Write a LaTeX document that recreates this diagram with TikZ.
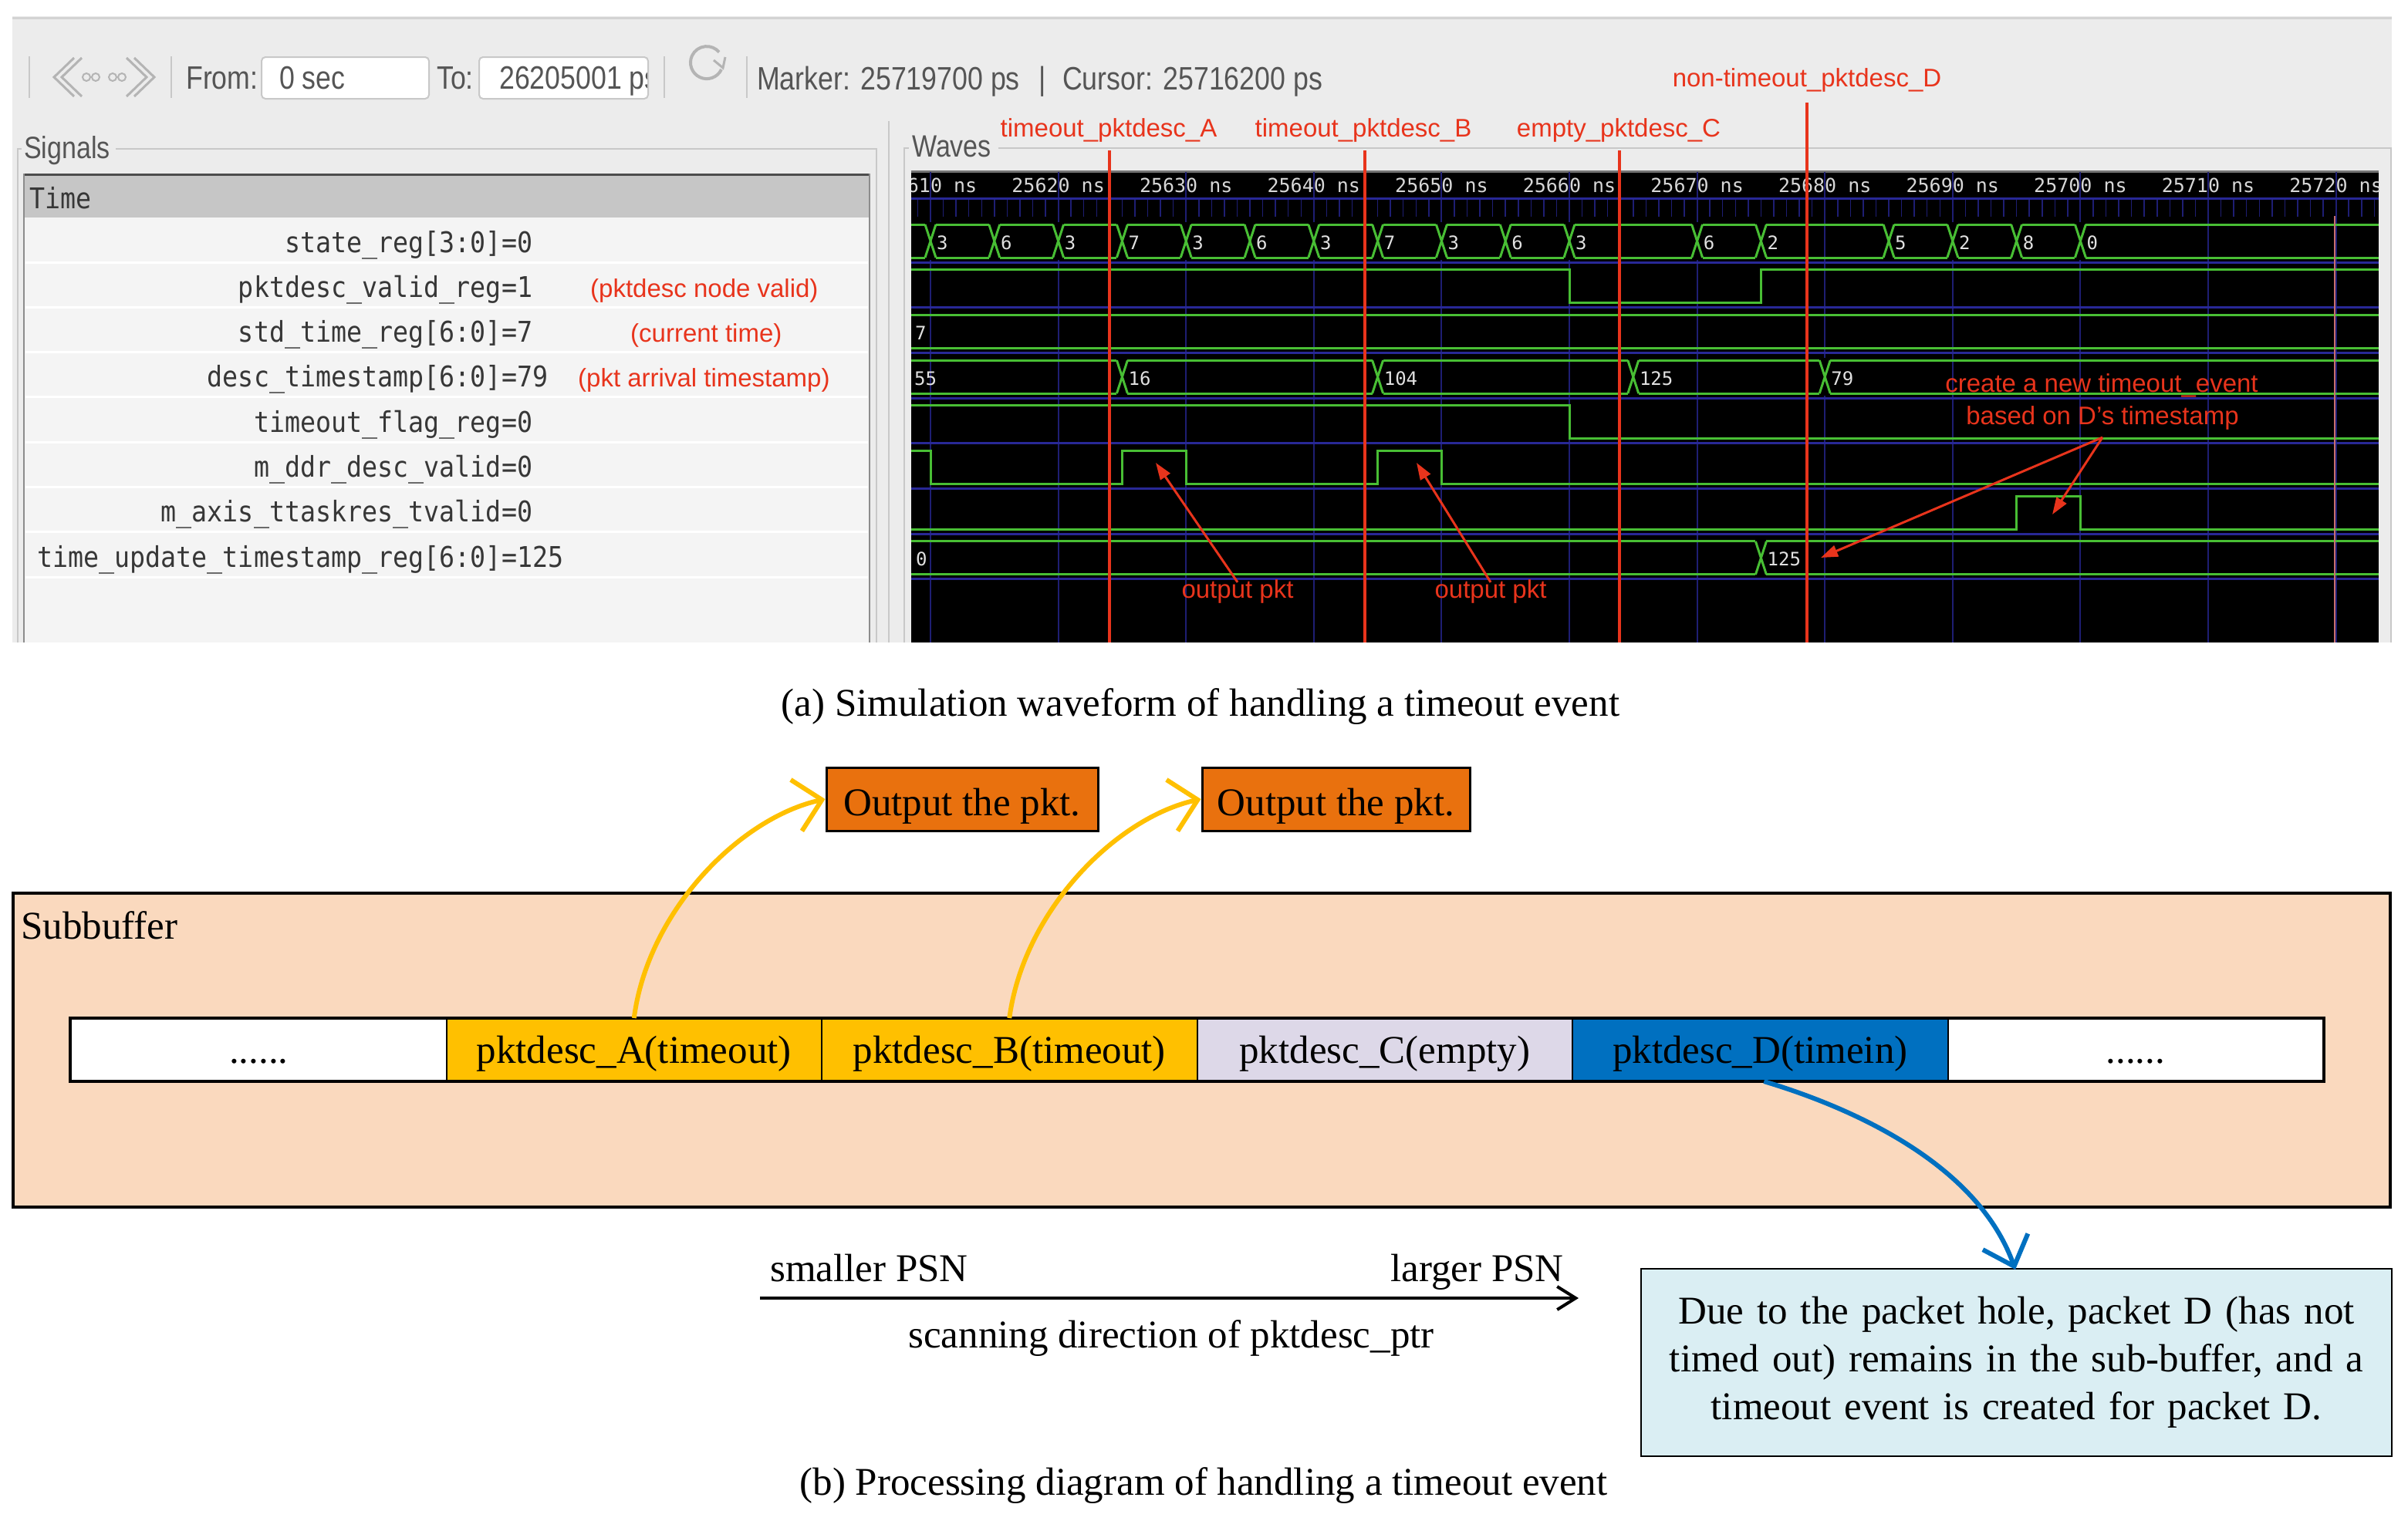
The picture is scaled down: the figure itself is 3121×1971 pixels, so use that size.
\documentclass[tikz,border=0pt]{standalone}
\usepackage{fontspec}
\setmainfont{Liberation Serif}
\newfontfamily\guifont[FakeStretch=0.85]{Liberation Sans}
\newfontfamily\annfont{Liberation Sans}
\newfontfamily\sigfont[FakeStretch=0.9]{DejaVu Sans Mono}
\newfontfamily\wavfont{DejaVu Sans Mono}
\usetikzlibrary{arrows.meta}
\definecolor{guibg}{RGB}{236,236,236}
\definecolor{guitxt}{RGB}{85,85,85}
\definecolor{sigtxt}{RGB}{55,55,55}
\definecolor{framegray}{RGB}{200,200,200}
\definecolor{listbg}{RGB}{244,244,244}
\definecolor{hdrgray}{RGB}{198,198,198}
\definecolor{icongray}{RGB}{180,180,180}
\definecolor{redann}{RGB}{232,52,28}
\definecolor{wavegreen}{RGB}{72,190,52}
\definecolor{sepblue}{RGB}{40,40,150}
\definecolor{gridblue}{RGB}{30,30,115}
\definecolor{rulertxt}{RGB}{215,215,215}
\definecolor{bustxt}{RGB}{225,225,225}
\definecolor{markpink}{RGB}{200,110,110}
\definecolor{peach}{RGB}{250,217,190}
\definecolor{ambr}{RGB}{255,192,0}
\definecolor{lav}{RGB}{221,216,232}
\definecolor{dblue}{RGB}{0,112,192}
\definecolor{lblue}{RGB}{218,238,243}
\definecolor{orng}{RGB}{233,113,14}
\newcommand\bodyfs{\fontsize{51}{62}\selectfont}
\newcommand\mybus[5]{%
  \draw[wv] (1181,#2) -- (3083,#2) (1181,#3) -- (3083,#3);
  \foreach \t/\v [count=\i] in {#5} {
    \fill[black] ({\t-7},{#2-3}) rectangle ({\t+7},{#3+3});
    \draw[wv] ({\t-7},#2) -- ({\t+7},#3) ({\t-7},#3) -- ({\t+7},#2);
    \node[busval] (#1\i) at ({\t+8},{#3-11}) {\v};
  }%
}
\tikzset{
 guitext/.style={font=\guifont\fontsize{42}{48}\selectfont, text=guitxt, inner sep=0pt},
 guilabel/.style={font=\guifont\fontsize{40}{46}\selectfont, text=guitxt, inner sep=0pt},
 sig/.style={font=\sigfont\fontsize{37}{42}\selectfont, text=sigtxt, inner sep=0pt},
 ann/.style={font=\annfont\fontsize{33}{38}\selectfont, text=redann, inner sep=0pt},
 rulerlab/.style={font=\wavfont\fontsize{25}{28}\selectfont, text=rulertxt, inner sep=0pt, anchor=base},
 busval/.style={font=\wavfont\fontsize{24}{28}\selectfont, text=bustxt, inner sep=0pt, anchor=base west},
 wv/.style={draw=wavegreen, line width=3pt},
 frame/.style={draw=framegray, line width=2.5pt},
 icon/.style={draw=icongray, line width=3pt},
 guibox/.style={draw=framegray, line width=2pt, fill=white, rounded corners=5pt, minimum height=54pt, inner sep=0pt},
 redline/.style={draw=redann, line width=3.5pt},
 redarrow/.style={draw=redann, line width=3pt, -{Triangle[length=22pt,width=15pt]}},
 cellbox/.style={draw=black, line width=2pt, minimum width=486.5pt, minimum height=80pt, inner sep=0pt, font=\bodyfs, text height=42pt, text depth=8pt},
 outbox/.style={draw=black, line width=3pt, fill=orng, minimum height=82pt, inner sep=0pt, font=\bodyfs, text height=44pt, text depth=2pt},
 body/.style={font=\bodyfs, inner sep=0pt},
 yarrow/.style={draw=ambr, line width=6pt, -{Straight Barb[length=34pt,width=68pt]}},
 barrow/.style={draw=dblue, line width=6pt, -{Straight Barb[length=34pt,width=62pt]}},
 psnarrow/.style={draw=black, line width=4pt, -{Straight Barb[length=24pt,width=30pt]}}
}
\begin{document}
\begin{tikzpicture}[x=1pt,y=-1pt]
\useasboundingbox (0,0) rectangle (3121,1971);
\fill[white] (0,0) rectangle (3121,1971);
% ===== GUI background =====
\fill[guibg] (16,21) rectangle (3100,833);
\draw[framegray!80, line width=3pt] (16,23) -- (3100,23);
% toolbar separators
\foreach \xx in {38,222,861,968} \draw[framegray, line width=2pt] (\xx,73) -- (\xx,127);
% navigation icons
\draw[icon] (96,75) -- (70,100) -- (96,125) (106,75) -- (80,100) -- (106,125);
\draw[icon, line width=2pt] (112,100) circle (5) (124,100) circle (5);
\draw[icon, line width=2pt] (146,100) circle (5) (158,100) circle (5);
\draw[icon] (164,75) -- (190,100) -- (164,125) (174,75) -- (200,100) -- (174,125);
% From / To
\node[guitext, anchor=base west] (fromlbl) at (241,115) {From:};
\node[guibox, minimum width=217pt] (frombox) at (447.5,101) {};
\node[guitext, anchor=base west] (fromval) at (362,115) {0 sec};
\node[guitext, anchor=base west] (tolbl) at (566,115) {To:};
\node[guibox, minimum width=219pt] (tobox) at (730.5,101) {};
\begin{scope}
\clip (622,75) rectangle (838,127);
\node[guitext, anchor=base west] (toval) at (647,115) {26205001 ps};
\end{scope}
% refresh icon
\draw[icon, line width=4pt] (935,90) arc (25:320:21);
\draw[icon, line width=3pt] (925,78) -- (937,88) -- (940,74);
% marker / cursor
\node[guitext, anchor=base west] (marker) at (981,116) {Marker: 25719700 ps};
\node[guitext, anchor=base] (bar) at (1351,116) {|};
\node[guitext, anchor=base west] (cursor) at (1377,116) {Cursor: 25716200 ps};
% ===== Signals panel =====
\node[guilabel, anchor=base west] (siglbl) at (31,205) {Signals};
\draw[frame] (23,833) -- (23,193) -- (28,193);
\draw[frame] (150,193) -- (1136,193) -- (1136,833);
\draw[frame] (1152,157) -- (1152,833);
\fill[listbg] (31,225) rectangle (1127,833);
\fill[hdrgray] (31,225) rectangle (1127,282);
\draw[black!70, line width=3pt] (31,226) -- (1127,226);
\draw[black!45, line width=2pt] (31,225) -- (31,833) (1127,225) -- (1127,833);
\foreach \k in {0,...,7} \draw[white, line width=3pt] (33,{340+58.3*\k}) -- (1125,{340+58.3*\k});
\node[sig, anchor=base west] (timehdr) at (38,270) {Time};
\node[sig, anchor=base east] (sn0) at (650,327) {state\_reg[3:0]};
\node[sig, anchor=base west] (sv0) at (650,327) {=0};
\node[sig, anchor=base east] (sn1) at (650,385.3) {pktdesc\_valid\_reg};
\node[sig, anchor=base west] (sv1) at (650,385.3) {=1};
\node[sig, anchor=base east] (sn2) at (650,443.6) {std\_time\_reg[6:0]};
\node[sig, anchor=base west] (sv2) at (650,443.6) {=7};
\node[sig, anchor=base east] (sn3) at (650,501.9) {desc\_timestamp[6:0]};
\node[sig, anchor=base west] (sv3) at (650,501.9) {=79};
\node[sig, anchor=base east] (sn4) at (650,560.2) {timeout\_flag\_reg};
\node[sig, anchor=base west] (sv4) at (650,560.2) {=0};
\node[sig, anchor=base east] (sn5) at (650,618.5) {m\_ddr\_desc\_valid};
\node[sig, anchor=base west] (sv5) at (650,618.5) {=0};
\node[sig, anchor=base east] (sn6) at (650,676.8) {m\_axis\_ttaskres\_tvalid};
\node[sig, anchor=base west] (sv6) at (650,676.8) {=0};
\node[sig, anchor=base east] (sn7) at (650,735.1) {time\_update\_timestamp\_reg[6:0]};
\node[sig, anchor=base west] (sv7) at (650,735.1) {=125};
\node[ann, anchor=base west] (an1) at (765,385) {(pktdesc node valid)};
\node[ann, anchor=base west] (an2) at (817,443) {(current time)};
\node[ann, anchor=base west] (an3) at (749,501) {(pkt arrival timestamp)};
% ===== Waves panel =====
\node[guilabel, anchor=base west] (wavlbl) at (1182,203) {Waves};
\draw[frame] (1172,833) -- (1172,192) -- (1178,192);
\draw[frame] (1294,192) -- (3099,192) -- (3099,833);
\fill[black] (1181,223) rectangle (3083,833);
\draw[black!55, line width=3pt] (1181,222) -- (3083,222);
\begin{scope}
\clip (1181,223) rectangle (3083,833);
\foreach \k in {0,...,11} \draw[gridblue, line width=2pt] ({1206+165.6*\k},223) -- ({1206+165.6*\k},833);
\foreach \k in {-1,...,113} \draw[gridblue, line width=1.5pt] ({1206+16.56*\k},259) -- ({1206+16.56*\k},281);
\foreach \k in {0,...,11} {
  \pgfmathtruncatemacro\lab{610+10*\k}
  \node[rulerlab] (rl\k) at ({1206+165.6*\k},249) {25\lab\ ns};
}
\draw[sepblue, line width=3pt] (1181,257) -- (3083,257);
\foreach \k in {0,...,7} \draw[sepblue, line width=3pt] (1181,{340+58.7*\k}) -- (3083,{340+58.7*\k});
% state_reg
\mybus{st}{291}{334}{}{1206/3,1288.8/6,1371.6/3,1454.4/7,1537.2/3,1620/6,1702.8/3,1785.6/7,1868.4/3,1951.2/6,2034/3,2199.6/6,2282.4/2,2448/5,2530.8/2,2613.6/8,2696.4/0}
% pktdesc_valid
\draw[wv] (1181,349.7) -- (2034,349.7) -- (2034,392.7) -- (2282.4,392.7) -- (2282.4,349.7) -- (3083,349.7);
% std_time
\draw[wv] (1181,408.4) -- (3083,408.4) (1181,451.4) -- (3083,451.4);
\node[busval] (stdv) at (1186,440.4) {7};
% desc_timestamp
\mybus{ds}{467.1}{510.1}{}{1454.4/16,1785.6/104,2116.8/125,2365.2/79}
\node[busval] (dsv0) at (1185,499.1) {55};
% timeout_flag
\draw[wv] (1181,525.8) -- (2034,525.8) -- (2034,568.8) -- (3083,568.8);
% m_ddr_desc_valid
\draw[wv] (1181,584.5) -- (1206,584.5) -- (1206,627.5) -- (1454.4,627.5) -- (1454.4,584.5) -- (1537.2,584.5) -- (1537.2,627.5) -- (1785.6,627.5) -- (1785.6,584.5) -- (1868.4,584.5) -- (1868.4,627.5) -- (3083,627.5);
% m_axis_ttaskres_tvalid
\draw[wv] (1181,686.2) -- (2613.6,686.2) -- (2613.6,643.2) -- (2696.4,643.2) -- (2696.4,686.2) -- (3083,686.2);
% time_update_timestamp
\mybus{tu}{701.9}{744.9}{}{2282.4/125}
\node[busval] (tuv0) at (1187,733.9) {0};
% marker line
\draw[markpink, line width=2pt] (3026,280) -- (3026,833);
\end{scope}
% ===== red annotations =====
\node[ann, anchor=base] (la) at (1437,177) {timeout\_pktdesc\_A};
\node[ann, anchor=base] (lb) at (1767,177) {timeout\_pktdesc\_B};
\node[ann, anchor=base] (lc) at (2098,177) {empty\_pktdesc\_C};
\node[ann, anchor=base] (ld) at (2342,112) {non-timeout\_pktdesc\_D};
\coordinate (mA1) at (1438,195); \coordinate (mA2) at (1438,833);
\coordinate (mB1) at (1769,195); \coordinate (mB2) at (1769,833);
\coordinate (mC1) at (2099,195); \coordinate (mC2) at (2099,833);
\coordinate (mD1) at (2342,133); \coordinate (mD2) at (2342,833);
\draw[redline] (mA1) -- (mA2);
\draw[redline] (mB1) -- (mB2);
\draw[redline] (mC1) -- (mC2);
\draw[redline] (mD1) -- (mD2);
\node[ann, anchor=base] (op1) at (1604,775) {output pkt};
\node[ann, anchor=base] (op2) at (1932,775) {output pkt};
\coordinate (op1tip) at (1498,600);
\coordinate (op2tip) at (1836,600);
\draw[redarrow] ([yshift=-4pt]op1.north) -- (op1tip);
\draw[redarrow] ([yshift=-4pt]op2.north) -- (op2tip);
\node[ann, anchor=base] (cr1) at (2724,508) {create a new timeout\_event};
\node[ann, anchor=base] (cr2) at (2725,550) {based on D’s timestamp};
\coordinate (crtipa) at (2360,723);
\coordinate (crtipb) at (2660,667);
\draw[redarrow] ([yshift=-10pt]cr2.south) -- (crtipa);
\draw[redarrow] ([yshift=-10pt]cr2.south) -- (crtipb);
% ===== caption a =====
\node[body, anchor=base] (capa) at (1556,928) {(a) Simulation waveform of handling a timeout event};
% ===== Part b =====
\node[outbox, minimum width=352pt] (out1) at (1247,1036) {Output the pkt.};
\node[outbox, minimum width=347pt] (out2) at (1731.5,1036) {Output the pkt.};
\node[draw=black, line width=4pt, fill=peach, minimum width=3081pt, minimum height=407pt, inner sep=0pt] (sub) at (1557.5,1361.5) {};
\node[body, anchor=base west] (sublbl) at (27,1217) {Subbuffer};
\node[cellbox, fill=white] (c0) at (335.25,1361) {......};
\node[cellbox, fill=ambr] (c1) at (821.75,1361) {pktdesc\_A(timeout)};
\node[cellbox, fill=ambr] (c2) at (1308.25,1361) {pktdesc\_B(timeout)};
\node[cellbox, fill=lav] (c3) at (1794.75,1361) {pktdesc\_C(empty)};
\node[cellbox, fill=dblue] (c4) at (2281.25,1361) {pktdesc\_D(timein)};
\node[cellbox, fill=white] (c5) at (2767.75,1361) {......};
\draw[line width=4pt] (c0.north west) rectangle (c5.south east);
\draw[yarrow] (c1.north) .. controls (840,1180) and (960,1060) .. (out1.west);
\draw[yarrow] (c2.north) .. controls (1327,1180) and (1447,1060) .. (out2.west);
\node[draw=black, line width=2pt, fill=lblue, minimum width=973pt, minimum height=243pt, text width=960pt, align=center, font=\fontsize{51}{62}\selectfont, inner sep=0pt] (note) at (2613.5,1766.5) {Due to the packet hole, packet D (has not\\timed out) remains in the sub-buffer, and a\\timeout event is created for packet D.};
\coordinate (noteIn) at (2612,1646);
\draw[barrow] ([xshift=5pt]c4.south) .. controls (2380,1430) and (2560,1500) .. (noteIn);
\node[body, anchor=base west] (small) at (998,1661) {smaller PSN};
\node[body, anchor=base east] (large) at (2027,1661) {larger PSN};
\coordinate (psnL) at (985,1683);
\coordinate (psnR) at (2046,1683);
\draw[psnarrow] (psnL) -- (psnR);
\node[body, anchor=base] (scan) at (1518,1747) {scanning direction of pktdesc\_ptr};
\node[body, anchor=base] (capb) at (1560,1938) {(b) Processing diagram of handling a timeout event};
\end{tikzpicture}
\end{document}
